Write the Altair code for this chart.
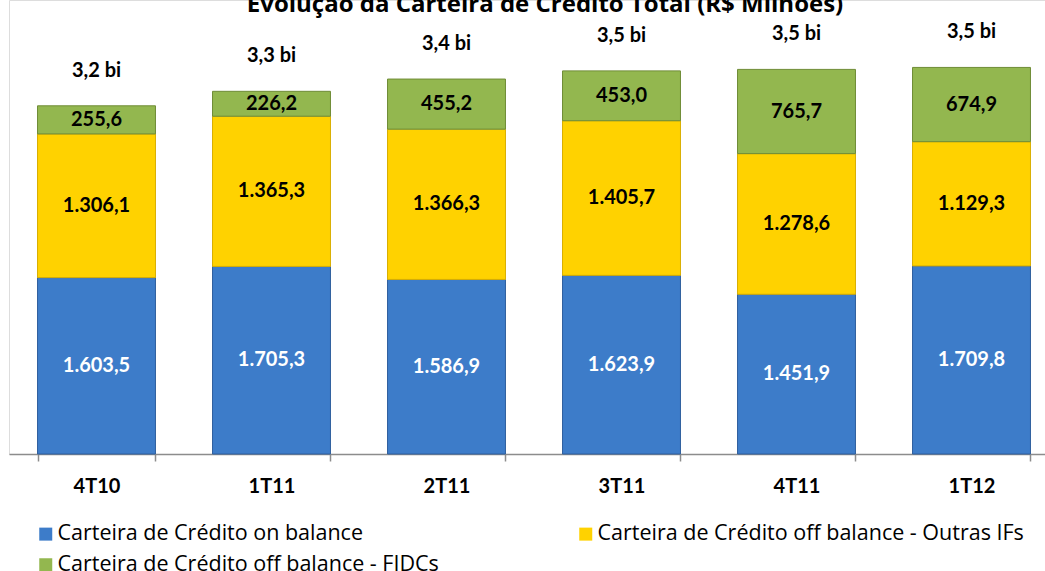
import altair as alt
import pandas as pd

categories = ["4T10", "1T11", "2T11", "3T11", "4T11", "1T12"]
series_names = [
    "Carteira de Crédito on balance",
    "Carteira de Crédito off balance - Outras IFs",
    "Carteira de Crédito off balance - FIDCs",
]
on_balance = [1603.5, 1705.3, 1586.9, 1623.9, 1451.9, 1709.8]
outras_ifs = [1306.1, 1365.3, 1366.3, 1405.7, 1278.6, 1129.3]
fidcs = [255.6, 226.2, 455.2, 453.0, 765.7, 674.9]
total_labels = ["3,2 bi", "3,3 bi", "3,4 bi", "3,5 bi", "3,5 bi", "3,5 bi"]
title_text = "Evolução da Carteira de Crédito Total (R$ Milhões)"

colors = ["#3d7cc9", "#ffd200", "#93b74f"]
strokes = ["#2f5f9e", "#d9ae00", "#6f8c36"]
FONT = "Lato"
LFONT = "Open Sans"

# legend is laid out column-major: on balance, FIDCs | Outras IFs
legend_order = [series_names[0], series_names[2], series_names[1]]
legend_colors = [colors[0], colors[2], colors[1]]
legend_strokes = [strokes[0], strokes[2], strokes[1]]


def fmt(v):
    s = f"{v:,.1f}"
    return s.replace(",", "X").replace(".", ",").replace("X", ".")


rows = []
for i, c in enumerate(categories):
    for k, vals in enumerate([on_balance, outras_ifs, fidcs]):
        rows.append({"cat": c, "series": series_names[k], "order": k,
                     "value": vals[i], "label": fmt(vals[i])})
df = pd.DataFrame(rows)

tot = pd.DataFrame({
    "cat": categories,
    "total": [a + b + c for a, b, c in zip(on_balance, outras_ifs, fidcs)],
    "label": total_labels,
})

xscale = alt.Scale(domain=categories, range=[0, 1050], paddingInner=0.326, paddingOuter=0.163)
yscale = alt.Scale(domain=[0, 4127], nice=False, zero=True)

xenc = alt.X("cat:N", scale=xscale, sort=categories, title=None,
             axis=alt.Axis(labelAngle=0, labelFont=FONT, labelFontSize=20,
                           labelFontWeight="bold", labelColor="black",
                           labelPadding=15, tickBand="extent", tickSize=7,
                           tickColor="#8c8c8c", domainColor="#8c8c8c",
                           domainWidth=1.5, tickWidth=1.5, grid=False))

bars = alt.Chart(df).mark_bar(strokeWidth=1).encode(
    x=xenc,
    y=alt.Y("value:Q", stack="zero", scale=yscale, axis=None),
    color=alt.Color("series:N", scale=alt.Scale(domain=legend_order, range=legend_colors),
                    legend=alt.Legend(title=None, orient="none", legendX=26, legendY=523,
                                      columns=2, columnPadding=136, rowPadding=8,
                                      symbolType="square", symbolSize=169,
                                      symbolStrokeWidth=0,
                                      labelFont=LFONT, labelFontSize=21.5,
                                      labelColor="black", labelLimit=700,
                                      labelOffset=1)),
    stroke=alt.Stroke("series:N", scale=alt.Scale(domain=legend_order, range=legend_strokes),
                      legend=None),
    order=alt.Order("order:Q", sort="ascending"),
)

labels = alt.Chart(df).transform_stack(
    stack="value", groupby=["cat"], sort=[alt.SortField("order", order="ascending")],
    as_=["y0", "y1"],
).transform_calculate(
    mid="(datum.y0 + datum.y1) / 2"
).mark_text(font=FONT, fontSize=20, fontWeight="bold", baseline="middle").encode(
    x=alt.X("cat:N", scale=xscale, sort=categories),
    y=alt.Y("mid:Q", scale=yscale),
    text="label:N",
    color=alt.condition(alt.datum.order == 0, alt.value("white"), alt.value("black")),
)

totals = alt.Chart(tot).mark_text(font=FONT, fontSize=20, fontWeight="bold",
                                  baseline="middle", dy=-35, color="black").encode(
    x=alt.X("cat:N", scale=xscale, sort=categories),
    y=alt.Y("total:Q", scale=yscale),
    text="label:N",
)

title = alt.Chart(pd.DataFrame({"t": [title_text]})).mark_text(
    font=LFONT, fontSize=24, fontWeight="bold", baseline="alphabetic", color="black"
).encode(x=alt.value(536), y=alt.value(12), text="t:N")

chart = alt.layer(bars, labels, totals, title).properties(
    width=1036, height=454,
    autosize=alt.AutoSizeParams(type="none"),
    padding={"left": 9, "top": 0, "right": 0, "bottom": 117},
).configure_view(stroke=None).configure(background="white")

chart.save("out.html", embed_options={"renderer": "svg", "actions": False})
